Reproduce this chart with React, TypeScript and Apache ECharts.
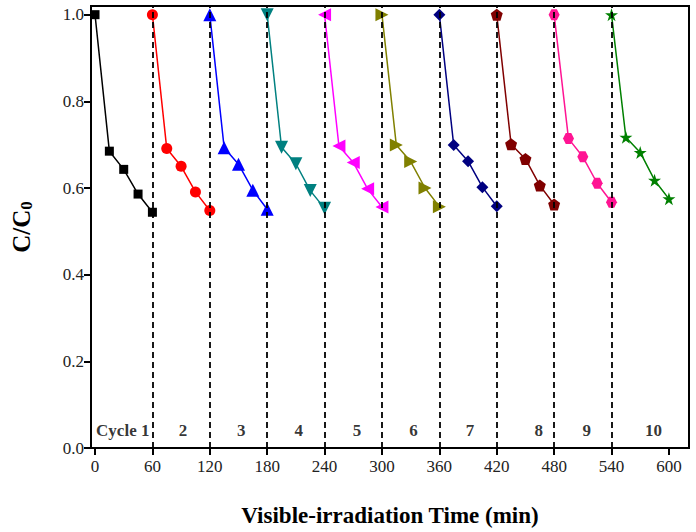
import React, { useEffect, useRef } from "react";
import * as echarts from "echarts";

const sampleTimes = [0, 15, 30, 45, 60];
const cycleStarts = [0, 60, 120, 180, 240, 300, 360, 420, 480, 540];

const cycle1 = [1.0, 0.685, 0.643, 0.586, 0.544];
const cycle2 = [1.0, 0.691, 0.65, 0.591, 0.548];
const cycle3 = [1.0, 0.693, 0.655, 0.595, 0.551];
const cycle4 = [1.0, 0.694, 0.656, 0.594, 0.553];
const cycle5 = [1.0, 0.697, 0.659, 0.598, 0.556];
const cycle6 = [1.0, 0.699, 0.661, 0.6, 0.557];
const cycle7 = [1.0, 0.699, 0.662, 0.602, 0.558];
const cycle8 = [1.0, 0.701, 0.667, 0.606, 0.562];
const cycle9 = [1.0, 0.714, 0.672, 0.611, 0.567];
const cycle10 = [1.0, 0.717, 0.682, 0.618, 0.575];
const cycles = [cycle1, cycle2, cycle3, cycle4, cycle5, cycle6, cycle7, cycle8, cycle9, cycle10];

const cycleColors = ["#000000", "#ff0000", "#0000ff", "#008080", "#ff00ff", "#808000", "#000080", "#800000", "#ff1493", "#008000"];
const cycleSymbols = [
  "rect",
  "circle",
  "triangle",
  "path://M0,0 L10,0 L5,10 Z",
  "path://M0,5 L10,0 L10,10 Z",
  "path://M10,5 L0,0 L0,10 Z",
  "diamond",
  "path://M0,-1 L0.951,-0.309 L0.588,0.809 L-0.588,0.809 L-0.951,-0.309 Z",
  "path://M-1,0 L-0.5,-0.866 L0.5,-0.866 L1,0 L0.5,0.866 L-0.5,0.866 Z",
  "path://M0,-1 L0.2245,-0.309 L0.951,-0.309 L0.363,0.118 L0.588,0.809 L0,0.382 L-0.588,0.809 L-0.363,0.118 L-0.951,-0.309 L-0.2245,-0.309 Z",
];
const cycleSymbolSizes = [9, 11, 13, 13, 13, 13, 12, 12, 11, 13];

const cycleLabelText = ["Cycle 1", "2", "3", "4", "5", "6", "7", "8", "9", "10"];
const cycleLabelX = [29, 92, 153, 213, 274, 333, 392, 464, 514, 584];
const cycleLabelY = 0.04;

const dividerTimes = [60, 120, 180, 240, 300, 360, 420, 480, 540];
const xTicks = [0, 60, 120, 180, 240, 300, 360, 420, 480, 540, 600];
const yTicks = [0, 0.2, 0.4, 0.6, 0.8, 1.0];

const FONT = "'Liberation Serif', 'Times New Roman', Times, serif";

export default function App() {
  const ref = useRef<HTMLDivElement>(null);
  useEffect(() => {
    if (!ref.current) return;
    const chart = echarts.init(ref.current, undefined, { renderer: "svg" });

    const dataSeries = cycles.map((vals, i) => ({
      type: "line",
      name: cycleLabelText[i],
      data: vals.map((v, j) => [cycleStarts[i] + sampleTimes[j], v]),
      symbol: cycleSymbols[i],
      symbolSize: cycleSymbolSizes[i],
      showAllSymbol: true,
      lineStyle: { color: cycleColors[i], width: 1.5 },
      itemStyle: { color: cycleColors[i] },
      z: 3,
    }));

    const option: any = {
      animation: false,
      textStyle: { fontFamily: FONT },
      grid: {
        left: 91,
        right: 7,
        top: 6,
        bottom: 81,
        show: true,
        borderColor: "#000",
        borderWidth: 2,
        backgroundColor: "transparent",
      },
      xAxis: {
        type: "value",
        min: -4.2,
        max: 621,
        name: "Visible-irradiation Time (min)",
        nameLocation: "middle",
        nameGap: 56,
        nameTextStyle: { fontFamily: FONT, fontWeight: "bold", fontSize: 23, color: "#000" },
        axisLine: { show: true, onZero: false, lineStyle: { color: "#000", width: 2 } },
        axisTick: { show: true, inside: false, length: 7, customValues: xTicks, lineStyle: { color: "#000", width: 2 } },
        axisLabel: {
          customValues: xTicks,
          fontFamily: FONT,
          fontSize: 17,
          color: "#222",
          margin: 10,
        },
        splitLine: { show: false },
      },
      yAxis: {
        type: "value",
        min: 0,
        max: 1.02,
        name: "C/C{sub|0}",
        nameLocation: "middle",
        nameGap: 56,
        nameRotate: 90,
        nameTextStyle: {
          fontFamily: FONT,
          fontWeight: "bold",
          fontSize: 25,
          color: "#000",
          rich: {
            sub: { fontFamily: FONT, fontWeight: "bold", fontSize: 17, verticalAlign: "bottom", padding: [10, 0, 0, 0], color: "#000" },
          },
        },
        axisLine: { show: true, onZero: false, lineStyle: { color: "#000", width: 2 } },
        axisTick: { show: true, inside: false, length: 7, customValues: yTicks, lineStyle: { color: "#000", width: 2 } },
        axisLabel: {
          customValues: yTicks,
          fontFamily: FONT,
          fontSize: 17,
          color: "#222",
          margin: 7,
          formatter: (v: number) => v.toFixed(1),
        },
        splitLine: { show: false },
      },
      series: [
        {
          type: "line",
          data: [],
          z: 1,
          markLine: {
            silent: true,
            symbol: "none",
            label: { show: false },
            lineStyle: { color: "#000", type: [6, 4], width: 1.8 },
            data: dividerTimes.map((t) => ({ xAxis: t })),
          },
        },
        ...dataSeries,
        {
          type: "scatter",
          symbolSize: 0,
          z: 5,
          data: cycleLabelText.map((t, i) => ({ name: t, value: [cycleLabelX[i], cycleLabelY] })),
          label: {
            show: true,
            position: "inside",
            formatter: (p: any) => p.name,
            fontFamily: FONT,
            fontWeight: "bold",
            fontSize: 17,
            color: "#000",
          },
        },
      ],
    };
    chart.setOption(option);
    return () => chart.dispose();
  }, []);
  return <div ref={ref} style={{ width: 696, height: 532, position: "absolute", left: 0, top: 0 }} />;
}
